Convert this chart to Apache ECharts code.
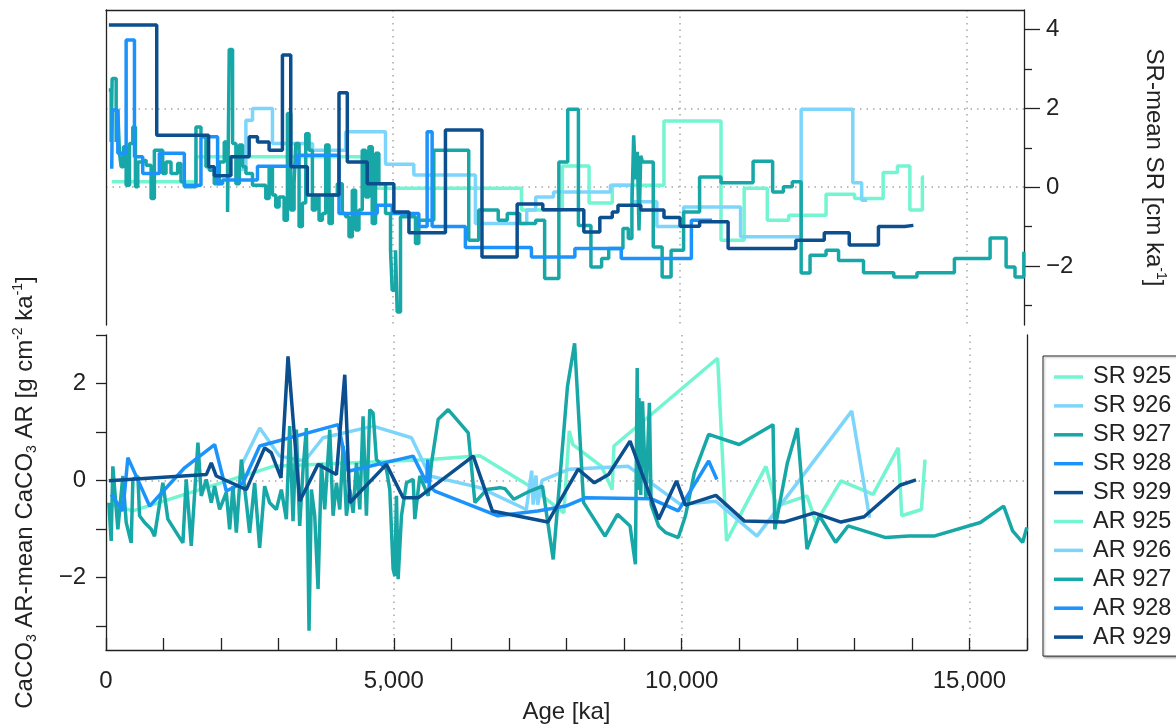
<!DOCTYPE html>
<html><head><meta charset="utf-8">
<script src="https://cdn.jsdelivr.net/npm/echarts@6/dist/echarts.min.js"></script>
<style>html,body{margin:0;padding:0;background:#fff}#c{width:1176px;height:725px}</style>
</head><body><div id="c"></div>
<script>
// ---------- data ----------
const names = ['SR 925','SR 926','SR 927','SR 928','SR 929','AR 925','AR 926','AR 927','AR 928','AR 929'];
const colors = ['#72f5d0','#7dd5fc','#18a7a7','#1c93fb','#0b4f8f'];
const xMajor = [0,5000,10000,15000];
const xMinor = [0,1000,2000,3000,4000,5000,6000,7000,8000,9000,10000,11000,12000,13000,14000,15000,16000];
const yTopMajor = [-2,0,2,4];
const yTopMinor = [-3,-1,1,3];
const yBotMajor = [-2,0,2];
const yBotMinor = [-3,-1,1,3];

// SR: step series, [age, value] value holds until next age; last point is the end age
const sr925 = [[100,0.14],[1569,0.77],[4698,-0.03],[7241,-0.58],[7954,0.54],[8420,-0.40],[8824,0.05],[9725,1.68],[10719,-1.35],[11123,-0.03],[11526,-0.84],[11899,-0.71],[12550,-0.18],[13048,-0.29],[13545,0.37],[13794,0.54],[14011,-0.58],[14229,0.26],[14258,0.26]];
const sr926 = [[2350,0.45],[2438,1.70],[2554,2.0],[2901,1.11],[3600,0.94],[4177,1.41],[4872,0.58],[5365,0.31],[6438,-0.92],[7333,-0.58],[7489,-0.25],[7800,-0.12],[8792,0.05],[9166,-0.37],[9601,-1.0],[10067,-0.5],[11060,-1.26],[12116,1.98],[13016,0.11],[13171,-0.33],[13266,-0.33]];
const sr927 = [[49,2.47],[90,1.15],[107,2.76],[177,1.15],[206,1.96],[235,0.86],[264,0.52],[304,1.03],[351,0.05],[409,1.11],[467,1.53],[513,0.01],[554,0.64],[612,0.69],[699,0.56],[786,-0.29],[843,0.94],[988,0.35],[1046,0.64],[1133,0.35],[1249,0.60],[1307,0.14],[1365,0.01],[1568,1.53],[1655,1.28],[1742,0.52],[1800,0.43],[1887,0.09],[1974,0.64],[2061,1.15],[2119,-0.63],[2148,3.5],[2206,1.11],[2264,0.09],[2322,1.07],[2380,0.52],[2438,0.35],[2553,0.05],[2785,-0.29],[2843,0.52],[2901,-0.2],[2959,-0.5],[3017,-0.25],[3104,-0.84],[3162,1.87],[3220,-0.58],[3278,0.09],[3307,1.11],[3365,-1.0],[3423,-0.4],[3481,1.36],[3539,0.94],[3597,-0.58],[3655,-0.25],[3713,-0.84],[3771,-0.67],[3829,1.07],[3887,-0.92],[3945,-0.2],[4032,0.09],[4119,-0.67],[4177,-0.75],[4235,-1.26],[4293,-0.08],[4351,-1.09],[4409,-0.58],[4466,0.94],[4524,-0.25],[4582,1.03],[4640,-0.92],[4698,0.86],[4756,0.09],[4872,-0.67],[4959,-1.6],[4988,-2.62],[5046,-1.6],[5075,-3.17],[5133,-0.75],[5394,-1.43],[5452,-0.84],[5713,0.94],[6322,-1.35],[6496,-0.58],[6836,-0.84],[6993,-0.67],[7210,-0.92],[7489,-0.84],[7645,-2.32],[7893,0.64],[8048,1.98],[8234,-0.97],[8452,-2.03],[8638,-1.81],[8762,-1.56],[9010,-1.05],[9103,-1.3],[9166,-0.5],[9197,1.32],[9230,0.2],[9260,0.9],[9290,-1.1],[9320,0.8],[9352,0.64],[9538,-1.52],[9693,-2.28],[9849,-1.6],[10067,-0.63],[10346,0.26],[10719,0.11],[11278,0.66],[11619,-0.12],[11806,0.01],[11961,0.14],[12116,-2.18],[12271,-1.73],[12550,-1.6],[12768,-1.86],[13203,-2.17],[13731,-2.28],[14134,-2.17],[14787,-1.81],[15409,-1.29],[15688,-2.03],[15843,-2.28],[15997,-1.64],[16000,-1.64]];
const sr928 = [[100,0.47],[110,1.96],[206,0.86],[351,3.74],[496,0.77],[640,0.35],[930,0.86],[1365,0.05],[1655,1.28],[1945,0.09],[2032,0.18],[2640,0.53],[3336,0.81],[4061,-0.67],[4727,-0.46],[4988,-0.67],[5452,-1.0],[5597,1.41],[5684,-1.0],[6264,-1.53],[7415,-1.77],[8172,-1.56],[8980,-1.81],[10203,-0.84],[10563,-0.84]];
const sr929 = [[50,4.12],[884,1.32],[1788,0.52],[1887,0.29],[2177,0.77],[2495,1.28],[2640,1.15],[2843,0.94],[3075,3.36],[3220,0.52],[3510,-0.2],[4061,2.4],[4206,0.64],[4553,0.09],[5017,-0.63],[5280,-1.16],[5916,1.45],[6553,-1.77],[7166,-0.43],[7613,-0.57],[8328,-1.14],[8607,-0.77],[8824,-0.63],[8923,-0.46],[9321,-0.58],[9725,-0.77],[10005,-0.99],[10346,-0.88],[10843,-1.56],[12024,-1.35],[12519,-1.16],[12954,-1.47],[13463,-1.0],[13917,-0.97],[14072,-0.97]];

// AR: line series [age, value]
const ar925 = [[100,-0.5],[467,-0.63],[2901,0.29],[5626,0.43],[6496,0.51],[7365,-0.12],[7954,-0.67],[8048,1.02],[8110,0.74],[8607,0.29],[8793,-0.19],[8824,0.71],[10626,2.52],[10781,-1.25],[11464,0.29],[11650,-0.53],[12178,-0.32],[12333,-0.87],[12768,-0.01],[13327,-0.29],[13762,0.67],[13824,-0.73],[14166,-0.6],[14228,0.43]];
const ar926 = [[2350,0.3],[2670,1.08],[3017,0.5],[3452,0.40],[3771,0.88],[4640,1.12],[5307,0.88],[5626,0.09],[6495,-0.15],[7302,-0.6],[7395,0.2],[7420,-0.5],[7470,0.1],[7500,-0.5],[7575,0.0],[8048,0.23],[9073,0.29],[9973,-0.49],[10595,-0.43],[11309,-1.15],[12955,1.43],[13265,-0.77]];
const ar927 = [[49,-0.46],[90,-1.25],[119,0.29],[206,-1.01],[293,0.09],[351,-0.87],[438,-1.29],[467,0.02],[554,0.09],[583,-0.73],[670,-0.87],[786,-1.01],[843,-1.15],[988,-0.05],[1075,-0.80],[1336,-1.29],[1394,0.02],[1481,-1.35],[1597,0.78],[1655,-0.32],[1742,0.02],[1829,-0.46],[1887,-0.12],[1974,-0.60],[2090,-0.25],[2148,-1.01],[2206,-0.12],[2264,-1.08],[2351,0.43],[2438,-0.46],[2495,-1.08],[2582,-0.05],[2669,-1.39],[2756,-0.12],[2843,-0.46],[2959,-0.60],[3046,-0.19],[3133,-0.80],[3191,1.12],[3249,-0.84],[3307,1.05],[3365,-0.94],[3423,0.23],[3481,1.08],[3527,-3.10],[3568,-0.19],[3626,-0.73],[3684,-2.24],[3742,0.36],[3800,-0.60],[3887,1.05],[3945,-0.73],[4003,-0.05],[4061,-0.60],[4119,0.71],[4177,-0.73],[4235,-0.19],[4293,-0.67],[4351,0.36],[4409,-0.60],[4466,1.32],[4524,-0.73],[4582,1.46],[4640,1.39],[4698,0.43],[4756,0.36],[4872,0.23],[4930,-0.19],[4988,-1.83],[5017,-1.97],[5046,-0.32],[5075,-2.04],[5133,-0.73],[5220,-0.05],[5336,0.02],[5365,-0.80],[5452,0.09],[5597,-0.32],[5655,0.36],[5771,1.26],[5945,1.46],[6293,0.98],[6409,-0.46],[6612,-0.19],[6844,-0.15],[6930,-0.17],[7086,-0.39],[7365,-0.22],[7583,-0.12],[7769,-1.63],[8017,1.94],[8141,2.83],[8297,-0.46],[8669,-1.15],[8886,-0.70],[9104,-0.94],[9197,-1.73],[9228,2.32],[9245,-0.2],[9259,1.70],[9290,-0.3],[9321,1.63],[9380,-0.4],[9440,1.6],[9470,-0.5],[9600,-0.94],[9725,-1.08],[9942,-1.18],[10067,-0.73],[10222,0.16],[10470,0.95],[11000,0.74],[11588,1.15],[11619,-1.01],[11837,0.36],[12011,1.08],[12178,-1.42],[12395,-0.73],[12675,-1.28],[12892,-0.94],[13545,-1.18],[13948,-1.15],[14383,-1.15],[15190,-0.87],[15595,-0.53],[15750,-1.04],[15924,-1.28],[15997,-0.97]];
const ar928 = [[90,-0.29],[293,-0.63],[380,0.47],[757,-0.53],[1365,0.26],[1887,0.74],[2090,-0.22],[2380,-0.05],[2670,0.71],[4032,1.15],[4206,0.19],[5336,0.5],[5570,-0.05],[5590,0.43],[5620,-0.12],[5713,-0.22],[6806,-0.73],[7500,-0.63],[7986,-0.53],[8328,-0.36],[9476,-0.38],[9942,-0.63],[10470,0.40],[10613,0.02]];
const ar929 = [[49,-0.01],[1743,0.12],[1829,0.36],[1916,0.09],[2438,-0.19],[2756,0.67],[2872,0.57],[3040,0.05],[3162,2.56],[3365,-0.43],[3684,0.33],[4003,0.12],[4148,2.18],[4235,-0.46],[4872,0.33],[5162,-0.36],[5423,-0.36],[6380,0.5],[6712,-0.63],[7676,-0.86],[8203,0.23],[8483,-0.05],[8731,0.12],[9104,0.81],[9601,-0.8],[9911,-0.01],[10067,-0.51],[10595,-0.31],[11092,-0.84],[11775,-0.86],[12302,-0.67],[12768,-0.86],[13171,-0.75],[13793,-0.10],[14072,0.01]];

// ---------- chart ----------
const FONT = '"Liberation Sans", Arial, Helvetica, sans-serif';
const INK = '#222';
const FS = 24;
const axisLine = {show:true, onZero:false, lineStyle:{color:INK, width:1.3}};
const noLine = {show:false, onZero:false};
const dotted = {show:true, showMinLine:false, showMaxLine:false, lineStyle:{color:'#a8a8a8', width:1.5, type:[1.5,5]}};
const fmtNum = v => (v < 0 ? '\u2212' + Math.abs(v) : String(v));
const fmtX = v => (v % 5000 === 0 ? v.toLocaleString('en-US') : '');

const chart = echarts.init(document.getElementById('c'), null, {renderer:'canvas'});
const srList = [sr925, sr926, sr927, sr928, sr929];
const arList = [ar925, ar926, ar927, ar928, ar929];
const series = [];
srList.forEach((d, i) => series.push({
  name: names[i], type:'line', xAxisIndex:0, yAxisIndex:0, step:'end', data:d,
  showSymbol:false, symbol:'none', lineStyle:{width:3.5, color:colors[i]}, itemStyle:{color:colors[i]}, z:2+i
}));
arList.forEach((d, i) => series.push({
  name: names[5+i], type:'line', xAxisIndex:1, yAxisIndex:3, data:d,
  showSymbol:false, symbol:'none', lineStyle:{width:3.5, color:colors[i]}, itemStyle:{color:colors[i]}, z:2+i
}));

chart.setOption({
  animation:false,
  backgroundColor:'#fff',
  textStyle:{fontFamily:FONT, color:INK},
  grid:[
    {left:106, right:149, top:10, height:315},
    {left:106, right:149, top:335, height:316}
  ],
  xAxis:[
    {gridIndex:0, type:'value', min:0, max:16000, interval:5000, position:'top',
     axisLine:axisLine, axisTick:{show:false}, axisLabel:{show:false}, splitLine:dotted},
    {gridIndex:1, type:'value', min:0, max:16000, interval:1000, position:'bottom',
     axisLine:axisLine,
     axisTick:{show:true, inside:true, length:12, customValues:xMinor, lineStyle:{color:INK, width:1.3}},
     axisLabel:{customValues:xMajor, formatter:fmtX, fontSize:FS, color:INK, margin:19, fontFamily:FONT},
     splitLine:{show:false},
     name:'Age [ka]', nameLocation:'middle', nameGap:50, nameTextStyle:{fontSize:FS, color:INK, fontFamily:FONT}},
    {gridIndex:1, type:'value', min:0, max:16000, interval:5000, position:'top',
     axisLine:noLine, axisTick:{show:false}, axisLabel:{show:false}, splitLine:dotted}
  ],
  yAxis:[
    {gridIndex:0, type:'value', min:-3.5, max:4.5, splitNumber:4, position:'right',
     axisLine:axisLine,
     axisTick:{show:true, length:16, customValues:yTopMajor, lineStyle:{color:INK, width:1.3}},
     axisLabel:{customValues:yTopMajor, formatter:fmtNum, fontSize:FS, color:INK, margin:22, fontFamily:FONT},
     splitLine:dotted,
     name:'{t|SR-mean SR [cm ka}{sup|-1}{t|]}', nameLocation:'middle', nameRotate:-90, nameGap:116,
     nameTextStyle:{color:INK, fontFamily:FONT, rich:{
       t:{fontSize:FS, lineHeight:28, color:INK, fontFamily:FONT},
       sup:{fontSize:14, lineHeight:16, verticalAlign:'top', color:INK, fontFamily:FONT}}}},
    {gridIndex:0, type:'value', min:-3.5, max:4.5, splitNumber:4, position:'right',
     axisLine:noLine,
     axisTick:{show:true, length:8, customValues:yTopMinor, lineStyle:{color:INK, width:1.3}},
     axisLabel:{show:false}, splitLine:{show:false}},
    {gridIndex:0, type:'value', min:-3.5, max:4.5, splitNumber:4, position:'left',
     axisLine:axisLine, axisTick:{show:false}, axisLabel:{show:false}, splitLine:{show:false}},
    {gridIndex:1, type:'value', min:-3.5, max:3, splitNumber:3, position:'left',
     axisLine:axisLine,
     axisTick:{show:true, length:10, customValues:yBotMajor, lineStyle:{color:INK, width:1.3}},
     axisLabel:{customValues:yBotMajor, formatter:fmtNum, fontSize:FS, color:INK, margin:20, fontFamily:FONT},
     splitLine:dotted,
     name:'{t|CaCO}{sub|3}{t| AR-mean CaCO}{sub|3}{t| AR [g cm}{sup|-2}{t| ka}{sup|-1}{t|]}',
     nameLocation:'middle', nameRotate:90, nameGap:67,
     nameTextStyle:{color:INK, fontFamily:FONT, rich:{
       t:{fontSize:FS, lineHeight:28, color:INK, fontFamily:FONT},
       sub:{fontSize:14, lineHeight:16, verticalAlign:'bottom', color:INK, fontFamily:FONT},
       sup:{fontSize:14, lineHeight:16, verticalAlign:'top', color:INK, fontFamily:FONT}}}},
    {gridIndex:1, type:'value', min:-3.5, max:3, splitNumber:3, position:'left',
     axisLine:noLine,
     axisTick:{show:true, length:10, customValues:yBotMinor, lineStyle:{color:INK, width:1.3}},
     axisLabel:{show:false}, splitLine:{show:false}},
    {gridIndex:1, type:'value', min:-3.5, max:3, splitNumber:3, position:'right',
     axisLine:axisLine, axisTick:{show:false}, axisLabel:{show:false}, splitLine:{show:false}}
  ],
  legend:{
    orient:'vertical', left:1043, top:356,
    padding:[9,40,7,11], itemWidth:29, itemHeight:3.5, itemGap:4.9, icon:'rect',
    borderColor:INK, borderWidth:1,
    shadowColor:'rgba(0,0,0,0.25)', shadowBlur:2, shadowOffsetX:1.5, shadowOffsetY:1.5,
    backgroundColor:'#fff',
    textStyle:{fontSize:23.5, lineHeight:24, color:INK, fontFamily:FONT, padding:[0,0,0,5]},
    data:names
  },
  series:series
});
</script></body></html>
